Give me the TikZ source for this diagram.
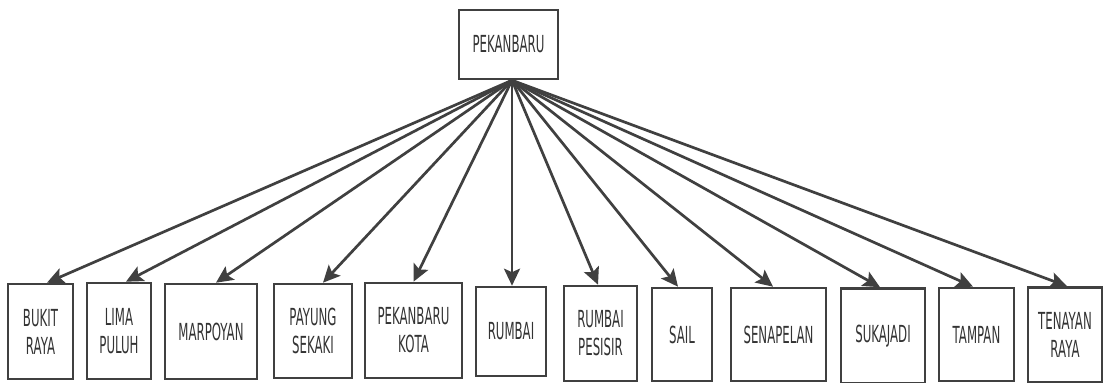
\documentclass[tikz,border=0pt]{standalone}
\usepackage{fontspec}
\newfontfamily\lbl{DejaVu Sans}[FakeStretch=0.5]
\usetikzlibrary{arrows.meta}
\definecolor{ink}{HTML}{404040}
\definecolor{txt}{HTML}{333333}
\begin{document}
\begin{tikzpicture}[x=1pt,y=-1pt,
  box/.style={draw=ink,line width=2.6pt,fill=white,inner sep=0pt,align=center,
    text=txt,font=\lbl\fontsize{23.5}{28}\selectfont},
  arr/.style={draw=ink,line width=2.7pt,
    -{Stealth[length=17pt,width=16pt,inset=3.5pt]}}]
\useasboundingbox (0,0) rectangle (1104,383);
\fill[white] (0,0) rectangle (1104,383);

% city
\node[box,minimum width=99pt,minimum height=69pt] (top) at (508.5,44.5) {PEKANBARU};
\coordinate (hub) at ([xshift=3.5pt]top.south);

% districts
\node[box,minimum width=65pt,minimum height=95pt] (b1)  at (40.5,331.5)  {BUKIT\\RAYA};
\node[box,minimum width=64pt,minimum height=96pt] (b2)  at (119,331)     {LIMA\\PULUH};
\node[box,minimum width=92pt,minimum height=95pt] (b3)  at (211,331.5)   {MARPOYAN};
\node[box,minimum width=78pt,minimum height=94pt] (b4)  at (313,331)     {PAYUNG\\SEKAKI};
\node[box,minimum width=97pt,minimum height=95pt] (b5)  at (413.5,330.5) {PEKANBARU\\KOTA};
\node[box,minimum width=70pt,minimum height=89pt] (b6)  at (511,331.5)   {RUMBAI};
\node[box,minimum width=73pt,minimum height=95pt] (b7)  at (600.5,333.5) {RUMBAI\\PESISIR};
\node[box,minimum width=60pt,minimum height=93pt] (b8)  at (682,334.5)   {SAIL};
\node[box,minimum width=95pt,minimum height=93pt] (b9)  at (778.5,334.5) {SENAPELAN};
\node[box,minimum width=84pt,minimum height=95pt] (b10) at (883,336)     {SUKAJADI};
\node[box,minimum width=75pt,minimum height=93pt] (b11) at (976.5,334.5) {TAMPAN};
\node[box,minimum width=74pt,minimum height=95pt] (b12) at (1065,335)    {TENAYAN\\RAYA};

% connectors
\draw[arr] (hub) -- ([xshift=6.5pt]b1.north);
\draw[arr] (hub) -- ([xshift=7pt]b2.north);
\draw[arr] (hub) -- ([xshift=5pt]b3.north);
\draw[arr] (hub) -- ([xshift=10pt]b4.north);
\draw[arr] (hub) -- ([xshift=0pt]b5.north);
\draw[arr] (hub) -- ([xshift=1pt]b6.north);
\draw[arr] (hub) -- ([xshift=-2.5pt]b7.north);
\draw[arr] (hub) -- ([xshift=-4pt]b8.north);
\draw[arr] (hub) -- ([xshift=-5.5pt]b9.north);
\draw[arr] (hub) -- ([xshift=-3pt]b10.north);
\draw[arr] (hub) -- ([xshift=-3.5pt]b11.north);
\draw[arr] (hub) -- ([xshift=2pt]b12.north);
\end{tikzpicture}
\end{document}
